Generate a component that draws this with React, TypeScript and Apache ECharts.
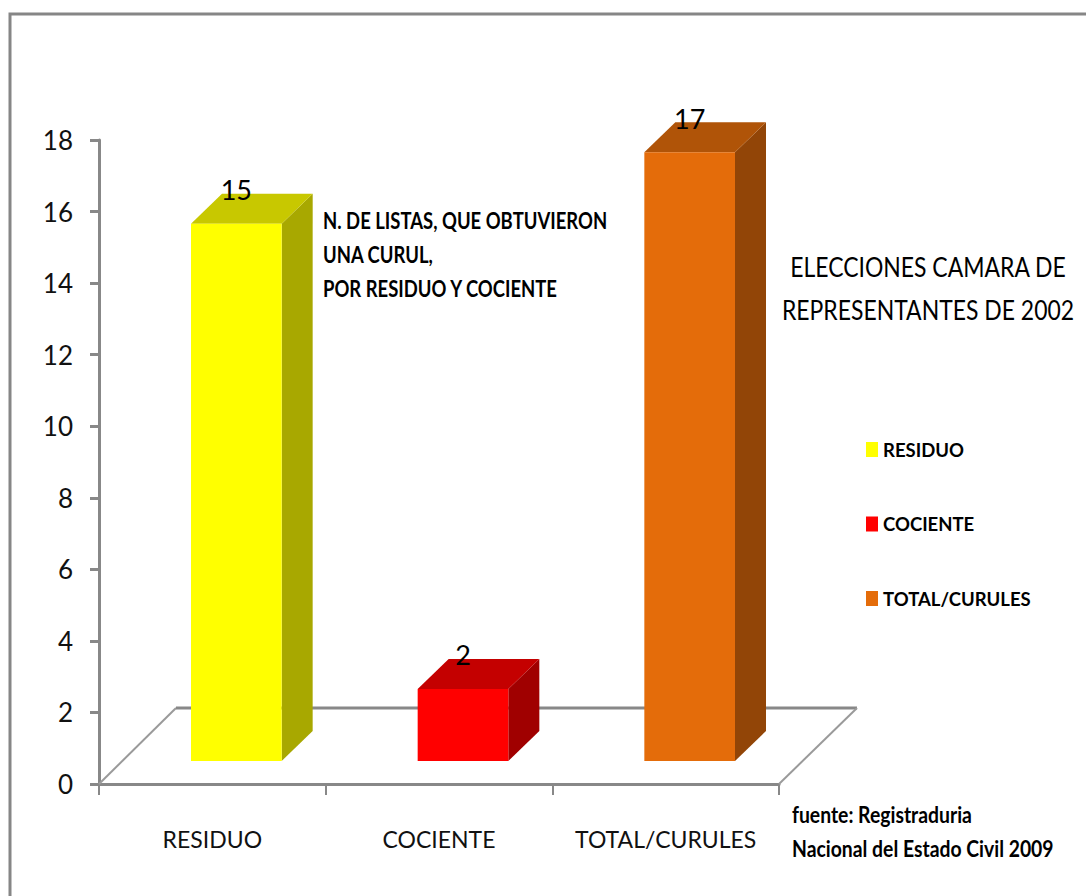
import React, { useEffect, useRef } from "react";
import * as echarts from "echarts";

const categories = ["RESIDUO", "COCIENTE", "TOTAL/CURULES"];
const seriesNames = ["RESIDUO", "COCIENTE", "TOTAL/CURULES"];
const values = [15, 2, 17];
const frontColors = ["#FFFF00", "#FF0000", "#E46C0A"];
const topColors = ["#C8C800", "#C40000", "#B05408"];
const sideColors = ["#A8A800", "#A00000", "#924507"];
const noteLines = ["N. DE LISTAS, QUE OBTUVIERON", "UNA CURUL,", "POR RESIDUO Y COCIENTE"];
const titleLines = ["ELECCIONES CAMARA DE", "REPRESENTANTES DE 2002"];
const sourceLines = ["fuente: Registraduria", "Nacional del Estado Civil 2009"];

const FONT = 'Lato, "Liberation Sans", sans-serif';
const AXIS = "#888888";
const SHIFT = 23.5;
const DEPTH_X = 31;
const DEPTH_Y = 30;

function barSeries(i: number) {
  return {
    type: "custom",
    name: seriesNames[i],
    coordinateSystem: "cartesian2d",
    z: 5,
    data: [[i, values[i]]],
    itemStyle: { color: frontColors[i] },
    renderItem: (_p: any, api: any) => {
      const top = api.coord([api.value(0), api.value(1)]);
      const base = api.coord([api.value(0), 0]);
      const w = api.size([1, 0])[0] * 0.4;
      const l = top[0] + SHIFT - w / 2 + 0.5;
      const r = l + w;
      const t = top[1] - SHIFT;
      const b = base[1] - SHIFT + 0.5;
      return {
        type: "group",
        children: [
          { type: "polygon", shape: { points: [[r, t], [r + DEPTH_X, t - DEPTH_Y], [r + DEPTH_X, b - DEPTH_Y], [r, b]] }, style: { fill: sideColors[i] } },
          { type: "polygon", shape: { points: [[l, t], [l + DEPTH_X, t - DEPTH_Y], [r + DEPTH_X, t - DEPTH_Y], [r, t]] }, style: { fill: topColors[i] } },
          { type: "rect", shape: { x: l, y: t, width: w, height: b - t }, style: { fill: frontColors[i] } },
          {
            type: "text",
            style: {
              text: String(values[i]),
              x: (l + r) / 2,
              y: t - DEPTH_Y - 4,
              align: "center",
              verticalAlign: "middle",
              font: `27px ${FONT}`,
              fill: "#000",
            },
          },
        ],
      };
    },
  };
}

const floorSeries = {
  type: "custom",
  name: "floor",
  coordinateSystem: "cartesian2d",
  z: 1,
  silent: true,
  data: [[0, 0]],
  renderItem: (p: any) => {
    const { x, y, width, height } = p.coordSys;
    const b = y + height;
    return {
      type: "group",
      children: [
        { type: "line", shape: { x1: x, y1: b, x2: x + 77, y2: b - 76 }, style: { stroke: "#9a9a9a", lineWidth: 2 } },
        { type: "line", shape: { x1: x + 77, y1: b - 76, x2: x + width + 78, y2: b - 76 }, style: { stroke: AXIS, lineWidth: 3 } },
        { type: "line", shape: { x1: x + width + 78, y1: b - 76, x2: x + width, y2: b }, style: { stroke: "#9a9a9a", lineWidth: 2 } },
      ],
    };
  },
};

function textLines(lines: string[], x: number, ys: number[], font: string, align: string, scaleX: number) {
  return lines.map((t, i) => ({
    type: "text",
    x,
    y: ys[i],
    scaleX,
    style: { text: t, font, fill: "#000", align, verticalAlign: "middle" },
  }));
}

export default function App() {
  const ref = useRef<HTMLDivElement>(null);
  useEffect(() => {
    document.body.style.margin = "0";
    document.body.style.overflow = "hidden";
    const chart = echarts.init(ref.current!, undefined, { renderer: "svg" });
    chart.setOption({
      animation: false,
      backgroundColor: "#fff",
      grid: { left: 99, right: 307, top: 140, bottom: 112 },
      legend: {
        data: seriesNames,
        orient: "vertical",
        left: 861,
        top: 435,
        itemWidth: 12,
        itemHeight: 15,
        itemGap: 55.5,
        icon: "rect",
        selectedMode: false,
        textStyle: { fontFamily: FONT, fontSize: 18.5, fontWeight: "bold", color: "#000" },
      },
      xAxis: {
        type: "category",
        data: categories,
        axisLine: { lineStyle: { color: AXIS, width: 3 } },
        axisTick: { show: true, interval: 0, length: 11, lineStyle: { color: AXIS, width: 2 } },
        axisLabel: { fontFamily: FONT, fontSize: 23, color: "#111", margin: 43, interval: 0 },
      },
      yAxis: {
        type: "value",
        min: 0,
        max: 18,
        interval: 2,
        splitLine: { show: false },
        axisLine: { show: true, lineStyle: { color: AXIS, width: 3 } },
        axisTick: { show: true, length: 9, lineStyle: { color: AXIS, width: 3 } },
        axisLabel: { fontFamily: FONT, fontSize: 26, color: "#111", margin: 26 },
      },
      graphic: [
        { type: "polyline", silent: true, shape: { points: [[10, 896], [10, 14], [1086, 14]] }, style: { stroke: "#868686", lineWidth: 3, fill: "none" } },
        ...textLines(noteLines, 323, [220, 254, 288], `bold 22px ${FONT}`, "left", 0.84),
        ...textLines(titleLines, 928, [266, 309], `27px ${FONT}`, "center", 0.85),
        ...textLines(sourceLines, 792, [815, 849], `bold 22px ${FONT}`, "left", 0.88),
      ],
      series: [floorSeries, ...values.map((_, i) => barSeries(i))],
    });
    return () => chart.dispose();
  }, []);
  return <div ref={ref} style={{ width: 1086, height: 896 }} />;
}
